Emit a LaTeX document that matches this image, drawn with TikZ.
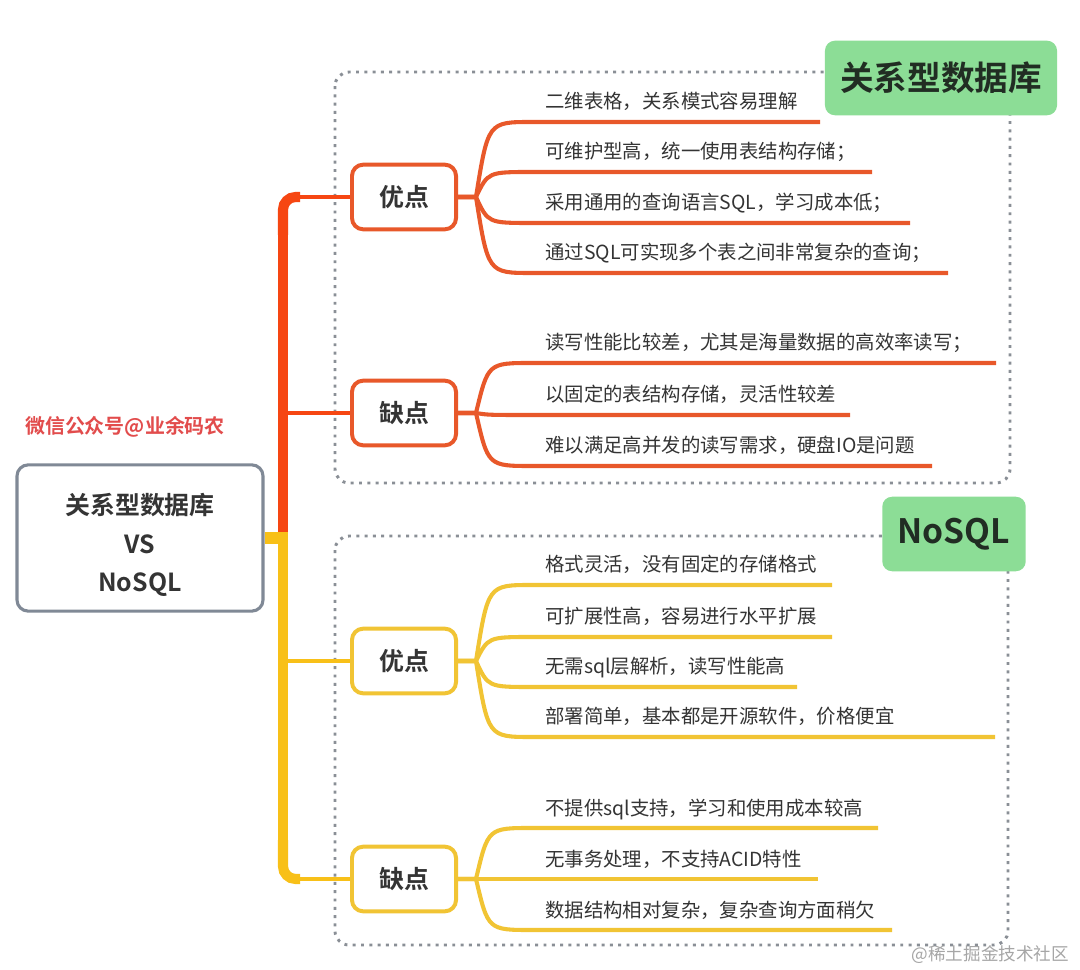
\documentclass[tikz,border=0pt]{standalone}
\usepackage{fontspec}
\setmainfont{Noto Sans CJK SC}[BoldFont={Noto Sans CJK SC Bold}]
\usetikzlibrary{positioning}

\definecolor{trunkred}{RGB}{246,70,18}
\definecolor{linered}{RGB}{232,88,42}
\definecolor{trunkyel}{RGB}{248,192,24}
\definecolor{lineyel}{RGB}{241,196,52}
\definecolor{framegray}{RGB}{138,143,150}
\definecolor{boxgray}{RGB}{128,137,150}
\definecolor{headgreen}{RGB}{140,221,150}
\definecolor{headtext}{RGB}{33,45,35}
\definecolor{txtgray}{RGB}{52,52,52}
\definecolor{labelred}{RGB}{226,76,76}

\begin{document}
\begin{tikzpicture}[x=0.025cm, y=-0.025cm,
	frame/.style={framegray, line width=2.1pt, dash pattern=on 2.1pt off 3.8pt, rounded corners=10pt},
	head/.style={fill=headgreen, rounded corners=7pt, text=headtext, font=\fontsize{23.9}{28}\selectfont\bfseries, minimum width=165pt, minimum height=53pt},
	side/.style={draw, line width=2.8pt, fill=white, rounded corners=8pt, text=txtgray, font=\fontsize{17.7}{20}\selectfont\bfseries, minimum width=74pt, minimum height=46pt},
	item/.style={anchor=base west, text=txtgray, font=\fontsize{13.8}{16}\selectfont, inner sep=0pt},
	twig/.style={line width=2.9pt},
	trunk/.style={line width=7.2pt}]
	\fill [white] (0,0) rectangle (1080,970);
	\useasboundingbox (0,0) rectangle (1080,970);

	\node [font=\fontsize{14.2}{16}\selectfont\bfseries, text=labelred] (wx) at (125,427) {微信公众号@业余码农};
	\node [draw=boxgray, line width=2.2pt, fill=white, rounded corners=8pt, minimum width=175pt, minimum height=104pt, align=center, text=txtgray, font=\fontsize{17.7}{27.6}\selectfont\bfseries] (main) at (140,538) {\rule{0pt}{25pt}关系型数据库\\VS\\NoSQL};

	\draw [frame] (335,72) rectangle (1010,483);
	\draw [frame] (335,536) rectangle (1008,945);
	\node [head] (relhead) at (941,78) {关系型数据库};
	\node [head, minimum width=102pt] (nohead) at (954,534) {NoSQL};

	\node [side, draw=linered] (rpro) at (404,197) {优点};
	\node [side, draw=linered] (rcon) at (404,413) {缺点};
	\node [side, draw=lineyel] (ypro) at (404,661) {优点};
	\node [side, draw=lineyel] (ycon) at (404,879) {缺点};

	\coordinate (split) at (283,538);
	\coordinate (rjoin) at (283,413);
	\coordinate (yjoin) at (283,661);
	\draw [trunkyel, line width=9pt] (main.east) -- (split);
	\draw [trunkyel, trunk] (283,532) -- (283,850);
	\draw [trunkyel, trunk, rounded corners=9pt] (283,840) |- (300,879);
	\draw [trunkyel, twig] (299,879) -- (ycon.west);
	\draw [trunkyel, twig] (yjoin) -- (ypro.west);
	\draw [trunkred, trunk] (283,532) -- (283,225);
	\draw [trunkred, trunk, rounded corners=9pt] (283,235) |- (300,197);
	\draw [trunkred, twig] (299,197) -- (rpro.west);
	\draw [trunkred, twig] (rjoin) -- (rcon.west);

	\foreach \yu/\xe/\txt [count=\i] in {122/820/二维表格，关系模式容易理解, 172/872/可维护型高，统一使用表结构存储；, 223/910/采用通用的查询语言SQL，学习成本低；, 273/948/通过SQL可实现多个表之间非常复杂的查询；}{
		\node [item] (rp\i) at (545,\yu-13) {\txt};
		\draw [linered, twig] (rpro.east) -- ++(18,0) .. controls (488,\yu) .. (532,\yu) -- (\xe,\yu);
	}
	\foreach \yu/\xe/\txt [count=\i] in {363/996/读写性能比较差，尤其是海量数据的高效率读写；, 415/850/以固定的表结构存储，灵活性较差, 466/932/难以满足高并发的读写需求，硬盘IO是问题}{
		\node [item] (rc\i) at (545,\yu-13) {\txt};
		\draw [linered, twig] (rcon.east) -- ++(18,0) .. controls (488,\yu) .. (532,\yu) -- (\xe,\yu);
	}
	\foreach \yu/\xe/\txt [count=\i] in {585/832/格式灵活，没有固定的存储格式, 637/832/可扩展性高，容易进行水平扩展, 687/797/无需sql层解析，读写性能高, 737/995/部署简单，基本都是开源软件，价格便宜}{
		\node [item] (yp\i) at (545,\yu-13) {\txt};
		\draw [lineyel, twig] (ypro.east) -- ++(18,0) .. controls (488,\yu) .. (532,\yu) -- (\xe,\yu);
	}
	\foreach \yu/\xe/\txt [count=\i] in {828/878/不提供sql支持，学习和使用成本较高, 879/818/无事务处理，不支持ACID特性, 930/892/数据结构相对复杂，复杂查询方面稍欠}{
		\node [item] (yc\i) at (545,\yu-13) {\txt};
		\draw [lineyel, twig] (ycon.east) -- ++(18,0) .. controls (488,\yu) .. (532,\yu) -- (\xe,\yu);
	}

	\node [anchor=east, text=black!35, font=\fontsize{12.5}{14}\selectfont] (mark) at (1074,955) {@稀土掘金技术社区};
\end{tikzpicture}
\end{document}
